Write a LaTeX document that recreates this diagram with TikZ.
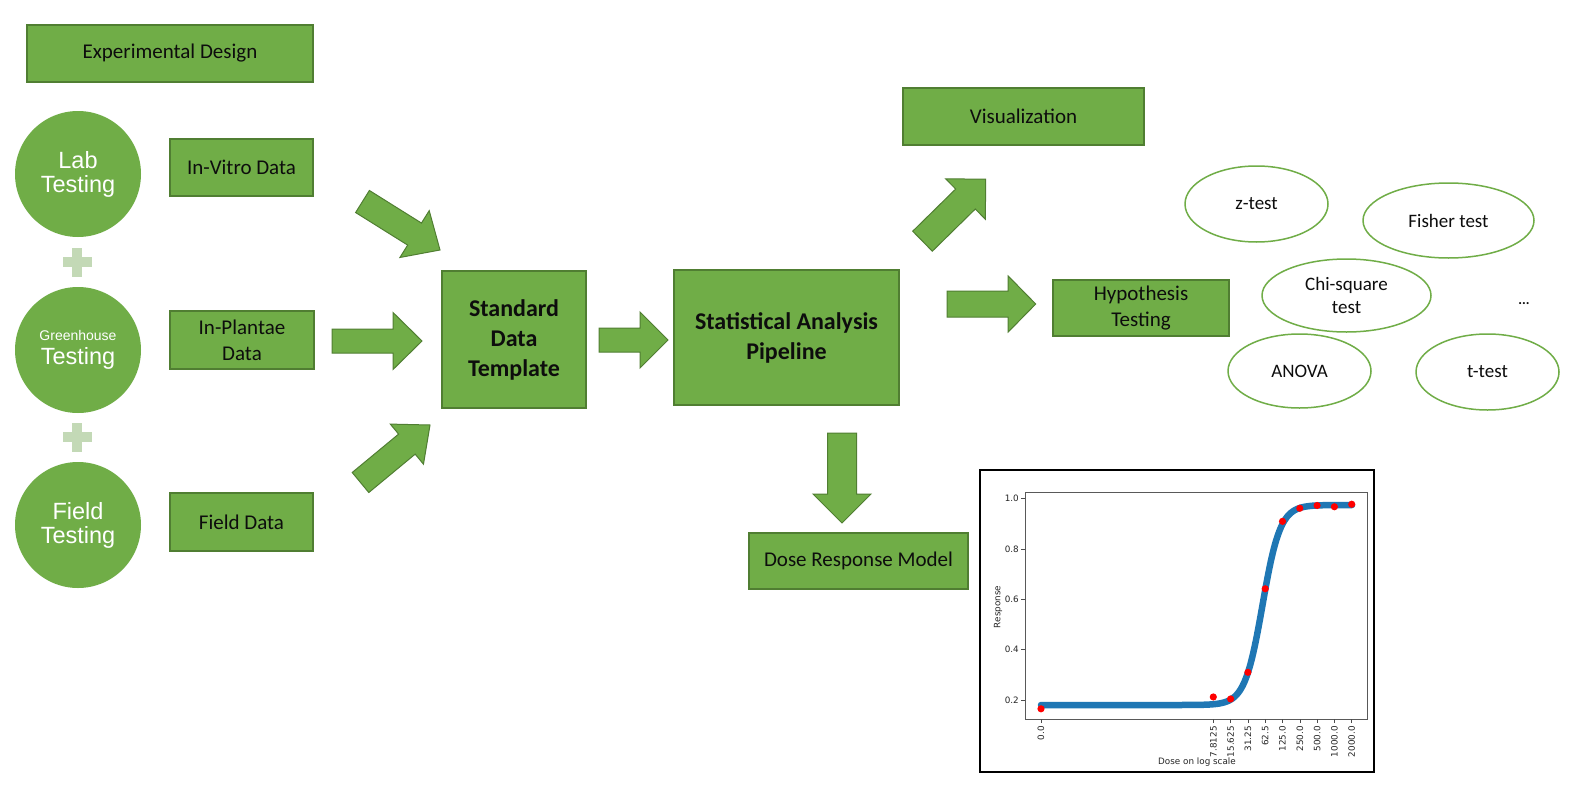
\documentclass[tikz,border=0pt]{standalone}
\usepackage{fontspec}
\setmainfont{Carlito}
\newfontfamily\arialf{Liberation Sans}
\newfontfamily\mplf{DejaVu Sans}
\usetikzlibrary{calc,shapes.geometric}
\definecolor{gfill}{HTML}{70AD47}
\definecolor{gline}{HTML}{507E32}
\definecolor{plusc}{HTML}{C3D9B6}
\definecolor{mplblue}{HTML}{1F77B4}
\definecolor{txt}{HTML}{0D0D0D}
% block arrow: tail, tip, shaft half width, head half width, head length
\newcommand{\blockarr}[5]{%
  \coordinate (hb) at ($(#2)!#5!(#1)$);
  \draw[arr] ($(#1)!#3!90:(#2)$) -- ($(hb)!#3!90:(#2)$) -- ($(hb)!#4!90:(#2)$) -- (#2)
    -- ($(hb)!#4!-90:(#2)$) -- ($(hb)!#3!-90:(#2)$) -- ($(#1)!#3!-90:(#2)$) -- cycle;}
\newcommand{\plussign}[1]{%
  \fill[plusc] ($(#1)+(-14.5,-5)$) rectangle ($(#1)+(14.5,5)$);
  \fill[plusc] ($(#1)+(-5,-14.5)$) rectangle ($(#1)+(5,14.5)$);}
\begin{document}
\begin{tikzpicture}[x=1pt,y=-1pt,
  box/.style={draw=gline, fill=gfill, line width=1.5pt, inner sep=0pt, align=center,
    text=txt, font=\fontsize{21}{26}\selectfont},
  bbox/.style={box, font=\bfseries\fontsize{24}{30}\selectfont},
  circ/.style={circle, fill=gfill, minimum size=126pt, inner sep=0pt, text=white,
    align=center, font=\arialf\fontsize{23.5}{24}\selectfont},
  ell/.style={ellipse, draw=gfill, line width=1.5pt, fill=white, inner sep=0pt,
    align=center, text=txt, font=\fontsize{19}{23}\selectfont},
  arr/.style={fill=gfill, draw=gline, line width=1pt, line join=miter},
  mpl/.style={font=\mplf\fontsize{8.8}{10}\selectfont, text=black!85, inner sep=0pt},
  tick/.style={line width=0.6pt, black!70}
]
\useasboundingbox[fill=white] (0,0) rectangle (1573,792);

% ---------- left column ----------
\node[box, minimum width=286pt, minimum height=57pt] (exp) at (170,53.5) {\raisebox{-2pt}{Experimental Design}};

\node[circ] (lab) at (78,174) {Lab\\Testing};
\node[circ] (green) at (78,350) {{\fontsize{14}{14}\selectfont Greenhouse}\\Testing};
\node[circ] (field) at (78,525) {Field\\Testing};
\coordinate (p1) at (77,262);
\coordinate (p2) at (77,437);
\plussign{p1}
\plussign{p2}

\node[box, minimum width=143pt, minimum height=57pt] (invitro) at (241.5,167.5) {\raisebox{-1.5pt}{In-Vitro Data}};
\node[box, minimum width=144pt, minimum height=58pt] (inplantae) at (242,340) {In-Plantae\\Data};
\node[box, minimum width=143pt, minimum height=58pt] (fdata) at (241.5,522) {Field Data};

% ---------- centre ----------
\node[bbox, minimum width=144pt, minimum height=137pt] (sdt) at (514,339.5) {Standard\\Data\\Template};
\node[bbox, minimum width=225pt, minimum height=135pt] (sap) at (786.5,337.5) {Statistical Analysis\\Pipeline};

\coordinate (a1t) at (362.5,201.5); \coordinate (a1h) at (440,250);
\coordinate (a2t) at (332,341);     \coordinate (a2h) at (422,341);
\coordinate (a3t) at (360.5,482.5); \coordinate (a3h) at (430,425);
\coordinate (a4t) at (599,340);     \coordinate (a4h) at (668,340);
\blockarr{a1t}{a1h}{13pt}{27.6pt}{30pt}
\blockarr{a2t}{a2h}{12pt}{28.5pt}{29pt}
\blockarr{a3t}{a3h}{13pt}{26pt}{30pt}
\blockarr{a4t}{a4h}{12pt}{28pt}{28pt}

% ---------- right ----------
\node[box, minimum width=241pt, minimum height=57pt] (vis) at (1023.5,116.5) {Visualization};
\node[box, minimum width=176pt, minimum height=56pt] (hyp) at (1141,308) {Hypothesis\\Testing};
\node[box, minimum width=219pt, minimum height=56pt] (dose) at (858.5,561) {Dose Response Model};

\coordinate (a5t) at (922.5,241.2); \coordinate (a5h) at (985.7,179.2);
\coordinate (a6t) at (947,304);     \coordinate (a6h) at (1035.7,304);
\coordinate (a7t) at (842,433);     \coordinate (a7h) at (842,523);
\blockarr{a5t}{a5h}{14pt}{28.3pt}{28.3pt}
\blockarr{a6t}{a6h}{13pt}{28pt}{27.5pt}
\blockarr{a7t}{a7h}{14.5pt}{29pt}{29pt}

\node[ell, minimum width=143pt, minimum height=76pt] (z) at (1256.5,204) {z-test};
\node[ell, minimum width=171pt, minimum height=75pt] (fisher) at (1448.5,220.5) {Fisher test};
\node[ell, minimum width=169pt, minimum height=73pt] (chi) at (1346.5,295.5) {Chi-square\\test};
\node[ell, minimum width=143pt, minimum height=74pt] (anova) at (1299.5,371) {ANOVA};
\node[ell, minimum width=143pt, minimum height=76pt] (ttest) at (1487.5,372) {t-test};
\node[text=txt, font=\bfseries\fontsize{14}{14}\selectfont, inner sep=0pt] (dots) at (1524,304) {...};

% ---------- plot ----------
\node[draw=black, line width=1.5pt, minimum width=394pt, minimum height=302pt, inner sep=0pt] (plotframe) at (1177,621) {};
\node[draw=black!65, line width=0.8pt, minimum width=342pt, minimum height=227pt, inner sep=0pt] (axes) at (1196,605.5) {};

% y ticks
\foreach \v/\lab in {0.2/0.2,0.4/0.4,0.6/0.6,0.8/0.8,1.0/1.0}{
  \pgfmathsetmacro{\yy}{750.3-251.6*\v}
  \draw[tick] (1025,\yy) -- (1021,\yy);
  \node[mpl, anchor=east] at (1019,\yy) {\lab};
}
\node[mpl, rotate=90] (ylab) at (998,607) {Response};

% x ticks
\draw[tick] (1041,719) -- (1041,723);
\node[mpl, rotate=90, anchor=east] at (1041,726) {0.0};
\foreach \k/\lab in {0/7.8125,1/15.625,2/31.25,3/62.5,4/125.0,5/250.0,6/500.0,7/1000.0,8/2000.0}{
  \pgfmathsetmacro{\xx}{1213.3+17.3*\k}
  \draw[tick] (\xx,719) -- (\xx,723);
  \node[mpl, rotate=90, anchor=east] at (\xx,726) {\lab};
}
\node[mpl] (xlab) at (1197,762) {Dose on log scale};

% fitted curve
\draw[mplblue, line width=6.5pt, line cap=round, line join=round]
  plot[domain=1041:1352, samples=160, smooth]
  (\x, {750.3-251.6*(0.18+0.795/(1+exp(min(9,max(-9,-(\x-1262.5)/8.88)))))});

% data points
\foreach \xx/\v in {1041/0.165, 1213.3/0.212, 1230.6/0.204, 1247.9/0.31, 1265.2/0.642,
  1282.5/0.91, 1299.8/0.962, 1317.1/0.973, 1334.4/0.968, 1351.7/0.978}{
  \fill[red] (\xx,{750.3-251.6*\v}) circle (3.6pt);
}
\end{tikzpicture}
\end{document}
